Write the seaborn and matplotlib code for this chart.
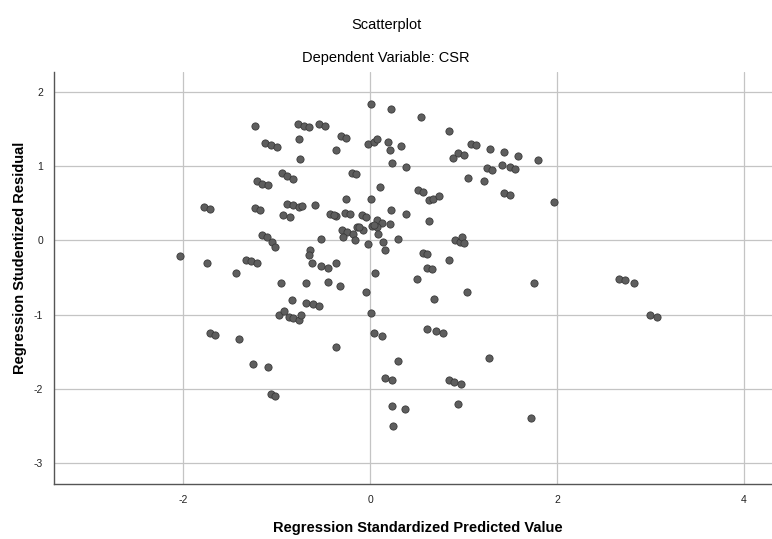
import matplotlib.pyplot as plt
import seaborn as sns
import pandas as pd

# valores (SPSS)
pred_padronizado = [
    -2.03, -1.78, -1.71, -1.74, -1.43, -1.33, -1.27, -1.21, -1.71, -1.66,
    -1.40, -1.25, -1.09, -1.06, -1.02,
    -1.23, -0.77, -0.71, -0.65, -0.55, -0.48, -0.76, -1.12, -1.06, -0.99,
    -0.75, -0.31, -0.26, -0.36, -0.94, -0.89, -0.82, -1.21, -1.16, -1.09,
    -0.89, -0.82, -0.76, -0.59, -1.23, -1.18, -0.93, -0.86, -1.16, -1.10,
    -1.05, -1.02, -0.52,
    0.01, 0.22, 0.55, 0.85, -0.02, 0.04, 0.07, 0.19, 0.21, 0.33,
    0.24, 0.385, -0.19, -0.15, 0.11, -0.26, 0.01,
    -0.43, -0.36, -0.27, -0.21, -0.09, -0.04, 0.22, 0.385, 0.07, 0.125,
    0.21, 0.02, 0.07, -0.14, -0.07, -0.30, -0.25, -0.29, -0.18, -0.16,
    0.09, 0.14, 0.16, -0.02, 0.30, -0.64, -0.65, -0.62, -0.52, -0.45,
    -0.36, 0.05, -0.39, -0.73, -0.12, 0.04,
    1.08, 1.13, 1.28, 1.43, 1.58, 1.80, 0.89, 0.94, 1.00, 1.25,
    1.30, 1.41, 1.50, 1.55, 1.05, 1.22, 1.43, 1.50, 1.97, 0.51,
    0.57, 0.63, 0.67, 0.74, 0.63, 0.91, 0.96, 0.98, 1.00, 0.57,
    0.61, 0.84, 0.61, 0.66, 0.50, 1.75,
    -0.95, -0.69, -0.45, -0.32, -0.83, -0.68, -0.61, -0.55, -0.97, -0.92,
    -0.87, -0.82, -0.76, -0.74, -0.04, 1.04, 0.68, 0.01, 0.04, 0.125,
    0.61, 0.71, 0.78, -0.36, 1.27, 0.30, 0.16, 0.23, 0.84, 0.90,
    0.97, 0.24, 0.37, 0.94, 1.72, 0.25,
    2.66, 2.73, 2.82, 2.99, 3.07,
]
residuo_student = [
    -0.21, 0.45, 0.42, -0.30, -0.44, -0.26, -0.28, -0.31, -1.25, -1.27,
    -1.33, -1.66, -1.70, -2.07, -2.10,
    1.53, 1.57, 1.54, 1.52, 1.57, 1.54, 1.36, 1.31, 1.28, 1.26,
    1.09, 1.40, 1.38, 1.22, 0.90, 0.86, 0.83, 0.80, 0.76, 0.74,
    0.49, 0.47, 0.45, 0.48, 0.44, 0.41, 0.34, 0.31, 0.07, 0.04,
    -0.02, -0.09, 0.01,
    1.83, 1.76, 1.66, 1.47, 1.29, 1.32, 1.36, 1.32, 1.21, 1.27,
    1.04, 0.98, 0.91, 0.89, 0.71, 0.56, 0.56,
    0.35, 0.32, 0.37, 0.35, 0.34, 0.31, 0.41, 0.35, 0.27, 0.23,
    0.22, 0.19, 0.18, 0.18, 0.14, 0.14, 0.11, 0.04, 0.09, 0.00,
    0.09, -0.02, -0.13, -0.05, 0.01, -0.13, -0.20, -0.31, -0.35, -0.38,
    -0.31, -0.44, 0.34, 0.46, 0.18, 0.20,
    1.30, 1.28, 1.23, 1.19, 1.13, 1.08, 1.10, 1.17, 1.14, 0.965,
    0.95, 1.01, 0.98, 0.96, 0.84, 0.80, 0.64, 0.61, 0.52, 0.68,
    0.65, 0.54, 0.56, 0.59, 0.26, 0.00, -0.02, 0.04, -0.04, -0.17,
    -0.19, -0.27, -0.37, -0.39, -0.52, -0.57,
    -0.57, -0.57, -0.56, -0.61, -0.80, -0.84, -0.86, -0.89, -1.01, -0.95,
    -1.03, -1.05, -1.08, -1.00, -0.70, -0.70, -0.79, -0.98, -1.25, -1.29,
    -1.19, -1.22, -1.25, -1.44, -1.59, -1.62, -1.86, -1.88, -1.88, -1.91,
    -1.94, -2.23, -2.27, -2.21, -2.39, -2.50,
    -0.52, -0.53, -0.57, -1.00, -1.03,
]

df = pd.DataFrame({"pred": pred_padronizado, "resid": residuo_student})

sns.set_style("white")
plt.rcParams["font.family"] = ["Liberation Sans", "DejaVu Sans"]
plt.rcParams["axes.unicode_minus"] = False

fig = plt.figure(figsize=(7.72, 5.39), dpi=100)
ax = fig.add_axes([0.07, 0.102, 0.93, 0.764])

sns.scatterplot(data=df, x="pred", y="resid", ax=ax, s=27,
                color="#5e5e5e", edgecolor="#3a3a3a", linewidth=0.6, zorder=3)

ax.set_xlim(-3.38, 4.3)
ax.set_ylim(-3.28, 2.26)
ax.set_xticks([-2, 0, 2, 4])
ax.set_yticks([-3, -2, -1, 0, 1, 2])
ax.grid(True, color="#c4c4c4", linewidth=0.9, zorder=0)

for lado in ["top", "right"]:
    ax.spines[lado].set_visible(False)
for lado in ["left", "bottom"]:
    ax.spines[lado].set_color("#555555")
    ax.spines[lado].set_linewidth(1.0)

ax.tick_params(axis="both", labelsize=7.5, length=3, color="#555555",
               labelcolor="#222222", pad=5)

ax.set_xlabel("Regression Standardized Predicted Value", fontsize=10.5,
              fontweight="bold", va="center", color="black")
ax.set_ylabel("Regression Studentized Residual", fontsize=10.5,
              fontweight="bold", va="center", color="black")
ax.xaxis.set_label_coords(0.507, -0.108)
ax.yaxis.set_label_coords(-0.048, 0.55)

fig.text(0.5, 0.953, "Scatterplot", ha="center", va="center",
         fontsize=10.5, color="black")
fig.text(0.5, 0.892, "Dependent Variable: CSR", ha="center", va="center",
         fontsize=10.5, color="black")

fig.savefig("out.png", dpi=100)
